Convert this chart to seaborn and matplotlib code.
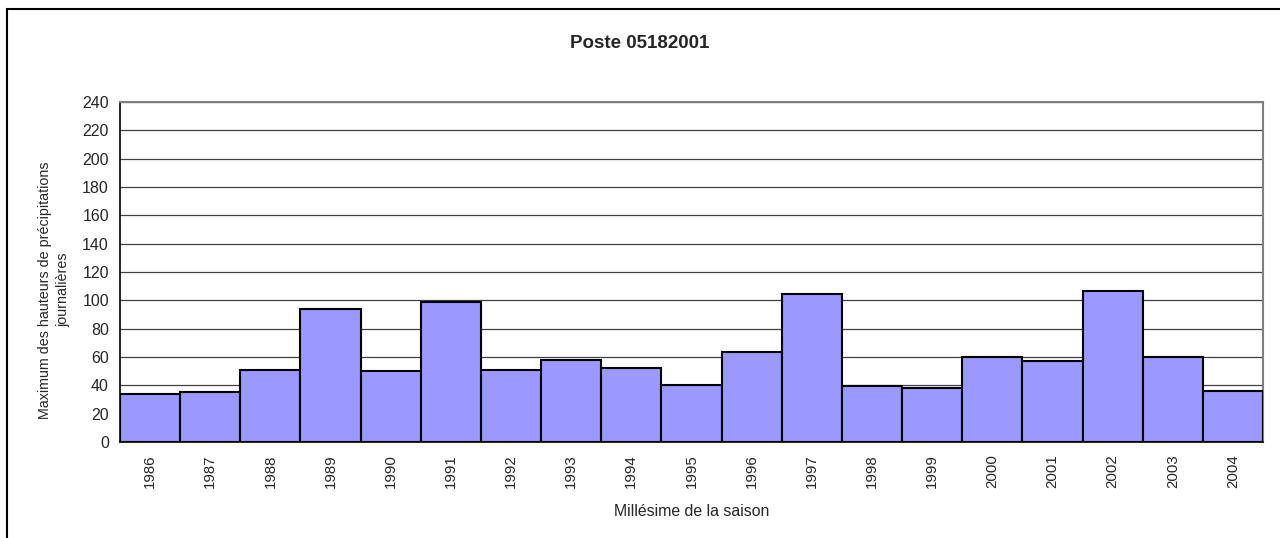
import matplotlib
matplotlib.use("Agg")
import matplotlib.pyplot as plt
import seaborn as sns
import pandas as pd
import numpy as np
from matplotlib.patches import Rectangle

years = ["1986", "1987", "1988", "1989", "1990", "1991", "1992", "1993", "1994", "1995",
         "1996", "1997", "1998", "1999", "2000", "2001", "2002", "2003", "2004"]
values = [34, 35, 51, 94, 50, 99, 51, 58, 52, 40, 63.5, 104.5, 39.5, 38, 60, 57, 106.5, 60, 36]
yticks = list(range(0, 241, 20))

title = "Poste 05182001"
ylabel = "Maximum des hauteurs de précipitations\njournalières"
xlabel = "Millésime de la saison"

sns.set_style("white")
plt.rcParams["font.family"] = ["Liberation Sans", "DejaVu Sans"]

df = pd.DataFrame({"year": years, "value": values})

fig = plt.figure(figsize=(12.8, 5.38), dpi=100)
ax = fig.add_axes([120 / 1280, 1 - 442 / 538, (1263 - 120) / 1280, (442 - 102) / 538])

sns.barplot(data=df, x="year", y="value", ax=ax, width=1.0, color="#9999FF",
            saturation=1, edgecolor="black", linewidth=1.5, zorder=3)

ax.set_ylim(0, 240)
ax.set_xlim(-0.5, len(years) - 0.5)
ax.set_yticks(yticks)
ax.set_yticklabels([str(t) for t in yticks], fontsize=11.5)
ax.yaxis.grid(True, color="#404040", linewidth=0.9, zorder=0)
ax.set_axisbelow(True)

ax.set_xticks(range(len(years)))
ax.set_xticklabels(years, rotation=90, fontsize=10.8)
ax.tick_params(axis="x", which="major", length=0, pad=9)
ax.set_xticks(np.arange(-0.5, len(years), 1.0), minor=True)
ax.tick_params(axis="x", which="minor", length=5, width=1, color="black", direction="out")
ax.tick_params(axis="y", length=5, width=1, color="black", direction="out", pad=3)

for side in ["top", "right"]:
    ax.spines[side].set_color("#808080")
    ax.spines[side].set_linewidth(1.5)
for side in ["left", "bottom"]:
    ax.spines[side].set_color("black")
    ax.spines[side].set_linewidth(1.2)

ax.set_xlabel(xlabel, fontsize=11.4, labelpad=11)
ax.set_ylabel("")
fig.text(54 / 1280, 1 - 290 / 538, ylabel, rotation=90, ha="center", va="center",
         fontsize=10.3, multialignment="center", linespacing=1.35)
fig.text(0.5, 1 - 44 / 538, title, ha="center", va="center", fontsize=13.5, fontweight="bold")

fig.patches.append(Rectangle((7 / 1280, -0.1), 1.2, 1 - 9 / 538 + 0.1, transform=fig.transFigure,
                             fill=False, edgecolor="black", linewidth=1.5))

fig.savefig("out.png", dpi=100)
